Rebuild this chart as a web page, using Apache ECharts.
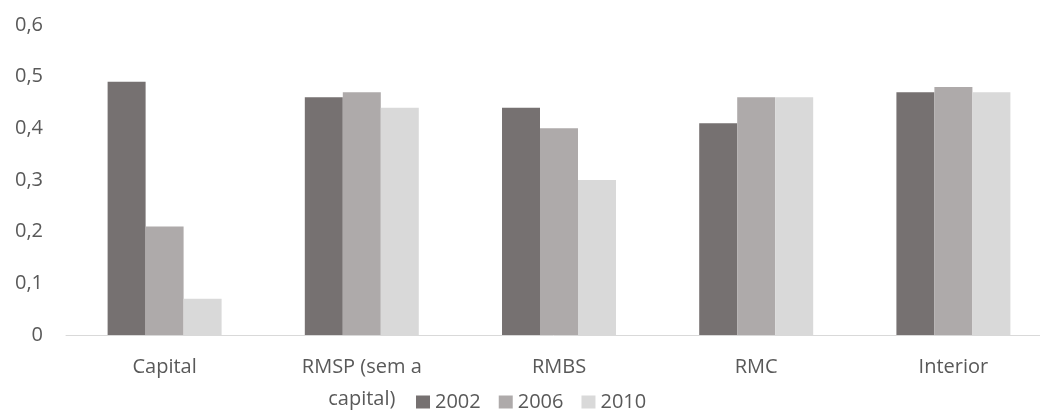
<!DOCTYPE html>
<html>
<head>
<meta charset="utf-8">
<script src="https://cdn.jsdelivr.net/npm/echarts@6/dist/echarts.min.js"></script>
<style>
  html, body { margin: 0; padding: 0; background: #fff; }
  #chart { width: 1040px; height: 412px; }
</style>
</head>
<body>
<div id="chart"></div>
<script>
// Regions and yearly values
const categories = ['Capital', 'RMSP (sem a\ncapital)', 'RMBS', 'RMC', 'Interior'];
const years = ['2002', '2006', '2010'];
const values2002 = [0.49, 0.46, 0.44, 0.41, 0.47];
const values2006 = [0.21, 0.47, 0.40, 0.46, 0.48];
const values2010 = [0.07, 0.44, 0.30, 0.46, 0.47];
const colors = ['#767171', '#AEAAAA', '#D9D9D9'];

const seriesValues = [values2002, values2006, values2010];
const textColor = '#595959';
const fontFamily = '"Open Sans", "Liberation Sans", sans-serif';

const chart = echarts.init(document.getElementById('chart'), null, { renderer: 'canvas' });
chart.setOption({
  animation: false,
  color: colors,
  textStyle: { fontFamily: fontFamily },
  // plot area runs slightly past the right edge of the canvas
  grid: { left: 66, right: -12, top: 25, bottom: 77, outerBoundsMode: 'none', containLabel: false },
  legend: {
    data: years,
    left: 416,
    top: 392,
    padding: 0,
    itemWidth: 14,
    itemHeight: 13,
    itemGap: 18,
    icon: 'rect',
    textStyle: { color: textColor, fontSize: 20, lineHeight: 20, fontFamily: fontFamily }
  },
  xAxis: {
    type: 'category',
    data: categories,
    axisLine: { lineStyle: { color: '#D9D9D9', width: 1 } },
    axisTick: { show: false },
    axisLabel: { color: textColor, fontSize: 20, margin: 16, lineHeight: 32, fontFamily: fontFamily }
  },
  yAxis: {
    type: 'value',
    min: 0,
    max: 0.6,
    interval: 0.1,
    axisLine: { show: false },
    axisTick: { show: false },
    splitLine: { show: false },
    axisLabel: {
      color: textColor,
      fontSize: 20,
      margin: 23,
      fontFamily: fontFamily,
      formatter: v => (v === 0 ? '0' : v.toFixed(1).replace('.', ','))
    }
  },
  series: years.map((y, i) => ({
    name: y,
    type: 'bar',
    data: seriesValues[i],
    barGap: '0%',
    barCategoryGap: '42.2%',
    itemStyle: { color: colors[i] }
  }))
});
</script>
</body>
</html>
